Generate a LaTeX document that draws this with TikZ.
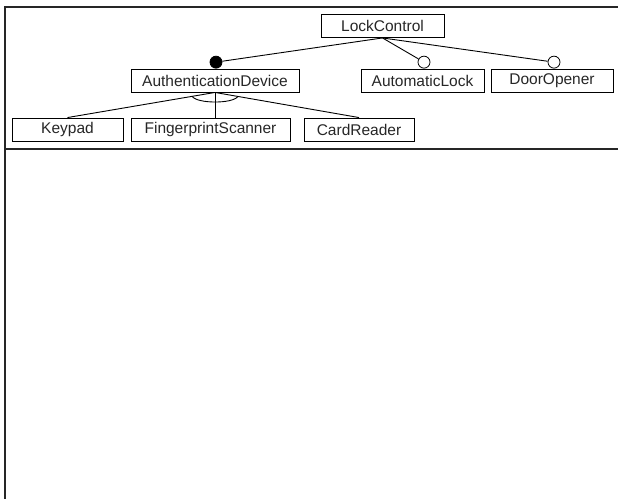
\documentclass[tikz,border=0pt]{standalone}
\usepackage{fontspec}
\setmainfont{Liberation Sans}
\usetikzlibrary{calc}
\begin{document}
\begin{tikzpicture}[x=1pt,y=-1pt,
  feature/.style={draw=black,line width=0.9pt,rectangle,inner sep=0pt,
    minimum height=23pt,font=\fontsize{15.5}{18}\selectfont,text=black!85},
  mandatory/.style={draw=black,fill=black,circle,inner sep=0pt,minimum size=12pt,line width=0.8pt},
  optional/.style={draw=black,fill=white,circle,inner sep=0pt,minimum size=12pt,line width=0.8pt},
  link/.style={draw=black,line width=0.9pt},
  frameline/.style={draw=black!85,line width=1.6pt}]
  \useasboundingbox (0,0) rectangle (618,499);

  % frame of the diagram pane
  \coordinate (tl) at (5,7);
  \coordinate (tr) at (618,7);
  \coordinate (bl) at (5,499);
  \coordinate (ml) at (5,149);
  \coordinate (mr) at (618,149);
  \draw[frameline] (tr) -- (tl) -- (bl);
  \draw[frameline] (ml) -- (mr);

  % features
  \node[feature,minimum width=123pt] (lc) at (382.5,26)   {LockControl};
  \node[feature,minimum width=168pt] (ad) at (215,80.5)   {AuthenticationDevice};
  \node[feature,minimum width=123pt] (al) at (422.5,80.5) {AutomaticLock};
  \node[feature,minimum width=122pt] (do) at (552,80.5)   {DoorOpener};
  \node[feature,minimum width=111pt] (kp) at (67.5,129.5) {Keypad};
  \node[feature,minimum width=159pt] (fs) at (210.5,129.5){FingerprintScanner};
  \node[feature,minimum width=110pt] (cr) at (359,129.5)  {CardReader};

  % mandatory / optional markers
  \node[mandatory,anchor=south] (m1) at ($(ad.north)+(1,0)$) {};
  \node[optional,anchor=south]  (o1) at ($(al.north)+(1.5,0)$) {};
  \node[optional,anchor=south]  (o2) at ($(do.north)+(2,0)$) {};

  \draw[link] (lc.south) -- (m1);
  \draw[link] (lc.south) -- (o1);
  \draw[link] (lc.south) -- (o2);

  % alternative group
  \draw[link] (ad.south) -- (kp.north);
  \draw[link] (ad.south) -- (fs.north -| ad.south);
  \draw[link] (ad.south) -- (cr.north);
  \coordinate (g1) at ($(ad.south)!0.155!(kp.north)$);
  \coordinate (g2) at ($(ad.south)!0.159!(cr.north)$);
  \draw[link] (g1) .. controls ($(g1)+(5,7.5)$) and ($(g2)+(-5,7.5)$) .. (g2);
\end{tikzpicture}
\end{document}
